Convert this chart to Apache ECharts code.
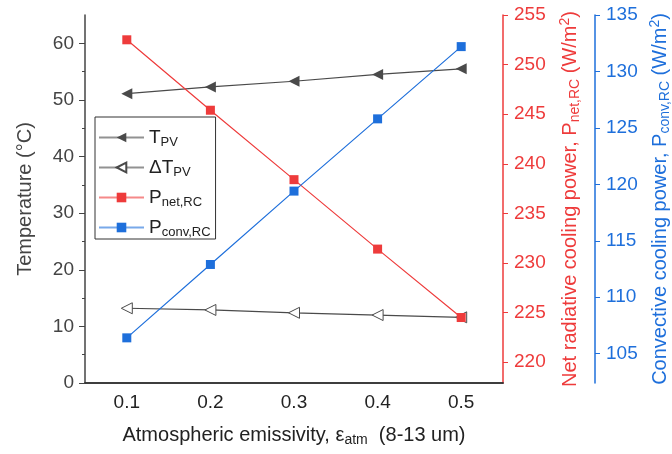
<!DOCTYPE html>
<html>
<head>
<meta charset="utf-8">
<script src="https://cdn.jsdelivr.net/npm/echarts@6/dist/echarts.min.js"></script>
<style>
  html, body { margin: 0; padding: 0; background: #fff; }
  #main { width: 672px; height: 454px; }
</style>
</head>
<body>
<div id="main"></div>
<script>
// emissivity values on the x axis
var emissivity = ['0.1', '0.2', '0.3', '0.4', '0.5'];
// temperatures (left axis)
var tPV = [51.1, 52.3, 53.3, 54.5, 55.5];
var deltaTPV = [13.2, 12.9, 12.4, 12.0, 11.6];
// net radiative cooling power (red axis)
var pNet = [252.5, 245.4, 238.4, 231.4, 224.5];
// convective cooling power (blue axis)
var pConv = [106.4, 112.9, 119.4, 125.8, 132.2];

var tempTicks = [0, 10, 20, 30, 40, 50, 60];
var tempMinor = [5, 15, 25, 35, 45, 55];
var netTicks = [220, 225, 230, 235, 240, 245, 250, 255];
var convTicks = [105, 110, 115, 120, 125, 130, 135];

var red = '#EE3B3B';
var blue = '#1E6FDB';
var gray = '#4a4a4a';
var font = 'Liberation Sans, Arial, sans-serif';

var myChart = echarts.init(document.getElementById('main'));

var subRich = function (color, size) {
    var s = Math.round(size * 0.7);
    return {
        n: { fontSize: size, color: color, fontFamily: font },
        sub: { fontSize: s, color: color, fontFamily: font, verticalAlign: 'bottom', padding: [Math.round(size * 0.5), 0, 0, 0] },
        sup: { fontSize: s, color: color, fontFamily: font, padding: [0, 0, Math.round(size * 0.45), 0] }
    };
};

var option = {
    animation: false,
    grid: { left: 85, right: 169, top: 15, bottom: 71, outerBoundsMode: 'none', containLabel: false },
    legend: {
        orient: 'vertical',
        left: 95,
        top: 117,
        itemWidth: 45,
        itemHeight: 12,
        itemGap: 9,
        padding: [11, 5, 0, 3],
        borderColor: '#333',
        borderWidth: 1,
        lineStyle: { opacity: 0.6 },
        textStyle: { fontSize: 19, color: '#222', fontFamily: font, rich: subRich('#222', 19) },
        formatter: function (name) {
            var map = {
                'T_PV': '{n|T}{sub|PV}',
                'dT_PV': '{n|ΔT}{sub|PV}',
                'P_net': '{n|P}{sub|net,RC}',
                'P_conv': '{n|P}{sub|conv,RC}'
            };
            return map[name];
        },
        data: ['T_PV', 'dT_PV', 'P_net', 'P_conv']
    },
    xAxis: [{
        type: 'category',
        data: emissivity,
        boundaryGap: true,
        name: '{n|Atmospheric emissivity, ε}{sub|atm}{n|  (8-13 um)}',
        nameLocation: 'middle',
        nameGap: 40,
        nameTextStyle: { rich: subRich('#222', 20) },
        axisLine: { lineStyle: { color: '#333', width: 1.5 } },
        axisTick: { alignWithLabel: true, length: 5, lineStyle: { color: '#333' } },
        axisLabel: { fontSize: 19, color: '#222', fontFamily: font, margin: 10 }
    }, {
        type: 'category',
        data: emissivity,
        position: 'top',
        axisLine: { lineStyle: { color: '#333', width: 1.5 } },
        axisTick: { show: false },
        axisLabel: { show: false }
    }],
    yAxis: [{
        type: 'value',
        position: 'left',
        min: 0,
        max: 65,
        name: 'Temperature (°C)',
        nameLocation: 'middle',
        nameGap: 50,
        nameTextStyle: { fontSize: 20, color: '#444', fontFamily: font },
        axisLine: { show: true, lineStyle: { color: '#444', width: 1.5 } },
        axisTick: { show: true, length: 6, customValues: tempTicks, lineStyle: { color: '#444' } },
        axisLabel: { fontSize: 19, color: '#444', fontFamily: font, margin: 11, customValues: tempTicks },
        splitLine: { show: false }
    }, {
        type: 'value',
        position: 'right',
        min: 217.9,
        max: 255,
        name: '{n|Net radiative cooling power, P}{sub|net,RC}{n| (W/m}{sup|2}{n|)}',
        nameLocation: 'middle',
        nameRotate: 90,
        nameGap: 55,
        nameTextStyle: { rich: subRich(red, 20) },
        axisLine: { show: true, lineStyle: { color: red, width: 1.5 } },
        axisTick: { show: true, length: 5, customValues: netTicks, lineStyle: { color: red } },
        axisLabel: { fontSize: 19, color: red, fontFamily: font, margin: 11, customValues: netTicks },
        splitLine: { show: false }
    }, {
        type: 'value',
        position: 'right',
        offset: 92,
        min: 102.4,
        max: 135,
        name: '{n|Convective cooling power, P}{sub|conv,RC}{n| (W/m}{sup|2}{n|)}',
        nameLocation: 'middle',
        nameRotate: 90,
        nameGap: 51,
        nameTextStyle: { rich: subRich(blue, 20) },
        axisLine: { show: true, lineStyle: { color: blue, width: 1.5 } },
        axisTick: { show: true, length: 5, customValues: convTicks, lineStyle: { color: blue } },
        axisLabel: { fontSize: 19, color: blue, fontFamily: font, margin: 11, customValues: convTicks },
        splitLine: { show: false }
    }, {
        // minor ticks of the temperature axis
        type: 'value',
        position: 'left',
        min: 0,
        max: 65,
        axisLine: { show: false },
        axisTick: { show: true, length: 3, customValues: tempMinor, lineStyle: { color: '#444' } },
        axisLabel: { show: false },
        splitLine: { show: false }
    }],
    series: [{
        name: 'T_PV',
        type: 'line',
        yAxisIndex: 0,
        data: tPV,
        symbol: 'triangle',
        symbolRotate: 90,
        symbolSize: 11,
        lineStyle: { color: gray, width: 1.2 },
        itemStyle: { color: gray }
    }, {
        name: 'dT_PV',
        type: 'line',
        yAxisIndex: 0,
        data: deltaTPV,
        symbol: 'triangle',
        symbolRotate: 90,
        symbolSize: 11,
        lineStyle: { color: gray, width: 1.2 },
        itemStyle: { color: '#fff', borderColor: gray, borderWidth: 1 }
    }, {
        name: 'P_net',
        type: 'line',
        yAxisIndex: 1,
        data: pNet,
        symbol: 'rect',
        symbolSize: 9,
        lineStyle: { color: red, width: 1.2 },
        itemStyle: { color: red }
    }, {
        name: 'P_conv',
        type: 'line',
        yAxisIndex: 2,
        data: pConv,
        symbol: 'rect',
        symbolSize: 9,
        lineStyle: { color: blue, width: 1.2 },
        itemStyle: { color: blue }
    }]
};

myChart.setOption(option);
</script>
</body>
</html>
